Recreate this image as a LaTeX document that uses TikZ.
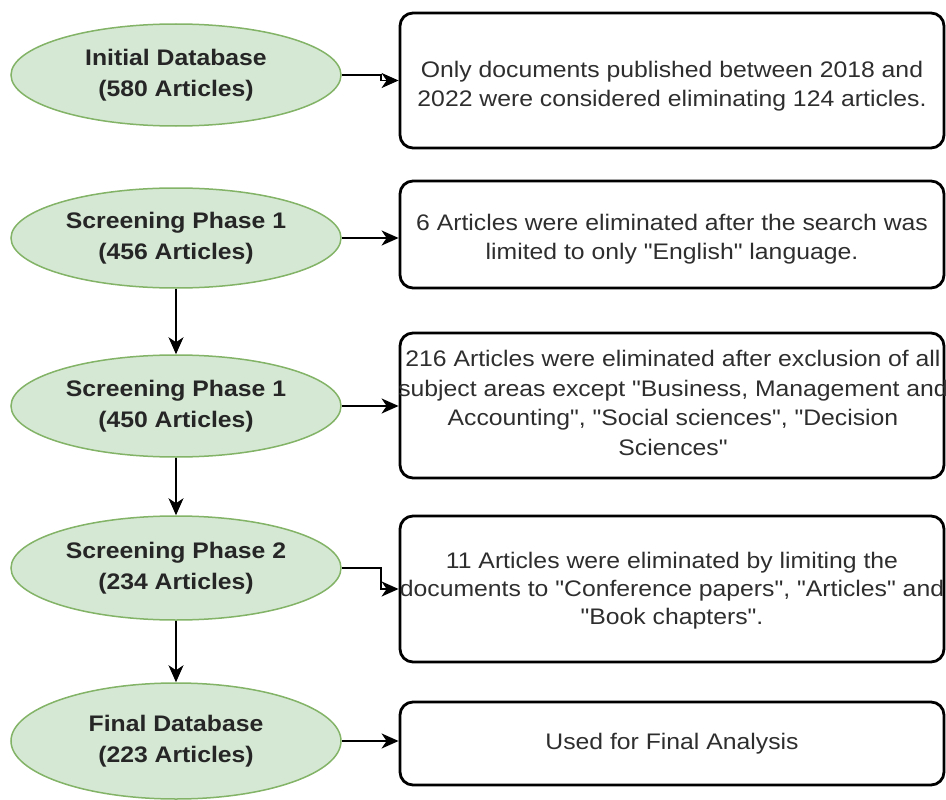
\documentclass[tikz,border=0pt]{standalone}
\usepackage{fontspec}
\setmainfont{Liberation Sans}[FakeStretch=1.1, Ligatures=TeXOff]
\usetikzlibrary{arrows.meta,shapes.geometric}
\definecolor{efill}{HTML}{D5E8D4}
\definecolor{edraw}{HTML}{82B366}
\definecolor{txt}{HTML}{2E2E2E}
\begin{document}
\begin{tikzpicture}[x=1pt,y=-1pt,
  phase/.style={ellipse, draw=edraw, fill=efill, line width=1.5pt,
    minimum width=330pt, inner sep=0pt, align=center, text=black!85,
    font=\fontsize{22.5}{30.5}\selectfont\bfseries},
  infobox/.style={draw=black, line width=2.8pt, rounded corners=13pt,
    minimum width=544pt, inner sep=0pt},
  infotext/.style={align=center, text=txt, inner sep=0pt,
    font=\fontsize{22.5}{29.5}\selectfont},
  conn/.style={line width=1.7pt, -{Stealth[length=17pt,width=15pt,inset=5pt]}},
]
\useasboundingbox (0,0) rectangle (946,800);
% ellipses
\node[phase, minimum height=102pt] (e1) at (176,75) {Initial Database\\(580 Articles)};
\node[phase, minimum height=100pt] (e2) at (176,238) {Screening Phase 1\\(456 Articles)};
\node[phase, minimum height=102pt] (e3) at (176,406) {Screening Phase 1\\(450 Articles)};
\node[phase, minimum height=104pt] (e4) at (176,568) {Screening Phase 2\\(234 Articles)};
\node[phase, minimum height=116pt] (e5) at (176,741) {Final Database\\(223 Articles)};
% boxes
\node[infobox, minimum height=135pt] (b1) at (672,80.5) {};
\node[infobox, minimum height=107pt] (b2) at (672,234.5) {};
\node[infobox, minimum height=145pt] (b3) at (672,405.5) {};
\node[infobox, minimum height=146pt] (b4) at (672,589) {};
\node[infobox, minimum height=83pt] (b5) at (672,743.5) {};
% box texts
\node[infotext] (t1) at (672,86) {Only documents published between 2018 and\\2022 were considered eliminating 124 articles.};
\node[infotext] (t2) at (672,239) {6 Articles were eliminated after the search was\\limited to only "English" language.};
\node[infotext] (t3) at (673,403) {216 Articles were eliminated after exclusion of all\\subject areas except "Business, Management and\\Accounting", "Social sciences", "Decision\\Sciences"};
\node[infotext, font=\fontsize{22.5}{28}\selectfont] (t4) at (672,591) {11 Articles were eliminated by limiting the\\documents to "Conference papers", "Articles" and\\"Book chapters".};
\node[infotext] (t5) at (672,744) {Used for Final Analysis};
% connectors
\draw[conn] (e1.east) -- ++(39,0) |- (b1.west);
\draw[conn] (e2.east) -- (e2.east -| b2.west);
\draw[conn] (e3.east) -- (e3.east -| b3.west);
\draw[conn] (e4.east) -- ++(39,0) |- (b4.west);
\draw[conn] (e5.east) -- (e5.east -| b5.west);
\draw[conn] (e2.south) -- (e3.north);
\draw[conn] (e3.south) -- (e4.north);
\draw[conn] (e4.south) -- (e5.north);
\end{tikzpicture}
\end{document}
